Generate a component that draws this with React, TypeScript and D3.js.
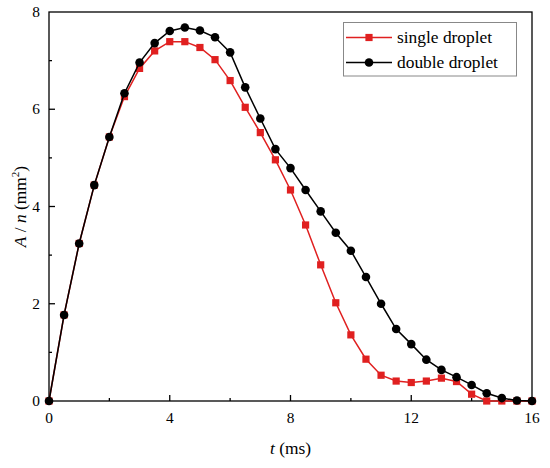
import * as d3 from 'd3';

const times = [0, 0.5, 1, 1.5, 2, 2.5, 3, 3.5, 4, 4.5, 5, 5.5, 6, 6.5, 7, 7.5, 8, 8.5, 9, 9.5, 10, 10.5, 11, 11.5, 12, 12.5, 13, 13.5, 14, 14.5, 15, 15.5, 16];
const singleDroplet = [0, 1.77, 3.24, 4.44, 5.43, 6.26, 6.84, 7.2, 7.39, 7.39, 7.27, 7.02, 6.59, 6.04, 5.52, 4.96, 4.34, 3.62, 2.8, 2.02, 1.36, 0.86, 0.53, 0.41, 0.38, 0.41, 0.47, 0.4, 0.14, 0, 0, 0, 0];
const doubleDroplet = [0, 1.77, 3.24, 4.44, 5.43, 6.33, 6.96, 7.36, 7.61, 7.68, 7.62, 7.48, 7.17, 6.45, 5.81, 5.18, 4.79, 4.34, 3.9, 3.46, 3.09, 2.55, 2.0, 1.48, 1.17, 0.85, 0.64, 0.49, 0.33, 0.16, 0.06, 0.01, 0];
const xTicks = [0, 4, 8, 12, 16];
const xMinor = [2, 6, 10, 14];
const yTicks = [0, 2, 4, 6, 8];
const yMinor = [1, 3, 5, 7];

const font = 'Liberation Serif';
const red = '#e02020';

const width = 550;
const height = 468;
const margin = { left: 49, right: 18, top: 12, bottom: 67 };

const x = d3.scaleLinear().domain([0, 16]).range([margin.left, width - margin.right]);
const y = d3.scaleLinear().domain([0, 8]).range([height - margin.bottom, margin.top]);

export default function App() {
  const [x0, x1] = x.range();
  const [y0, y1] = y.range();
  const line = d3.line<number>().x((_, i) => x(times[i])).y((d) => y(d));

  const legendItems = [
    { label: 'single droplet', color: red, shape: 'square' },
    { label: 'double droplet', color: '#000', shape: 'circle' },
  ];

  return (
    <svg width={width} height={height} style={{ position: 'absolute', left: 0, top: 0, background: '#fff' }}>
      {/* frame */}
      <rect x={x0} y={y1} width={x1 - x0} height={y0 - y1} fill="none" stroke="#000" strokeWidth={1.3} />

      {/* inward ticks */}
      <g stroke="#000" strokeWidth={1.3}>
        {xTicks.slice(1, -1).map((t) => <line key={'xt' + t} x1={x(t)} x2={x(t)} y1={y0} y2={y0 - 6} />)}
        {xMinor.map((t) => <line key={'xm' + t} x1={x(t)} x2={x(t)} y1={y0} y2={y0 - 3} />)}
        {yTicks.slice(1, -1).map((t) => <line key={'yt' + t} x1={x0} x2={x0 + 6} y1={y(t)} y2={y(t)} />)}
        {yMinor.map((t) => <line key={'ym' + t} x1={x0} x2={x0 + 3} y1={y(t)} y2={y(t)} />)}
      </g>

      {/* tick labels */}
      <g fontFamily={font} fontSize={15.4}>
        {xTicks.map((t) => (
          <text key={'xl' + t} x={x(t)} y={y0 + 22} textAnchor="middle">{t}</text>
        ))}
        {yTicks.map((t) => (
          <text key={'yl' + t} x={x0 - 9} y={y(t) + 5} textAnchor="end">{t}</text>
        ))}
      </g>

      {/* axis titles */}
      <text x={(x0 + x1) / 2} y={454} textAnchor="middle" fontFamily={font} fontSize={17.4}>
        <tspan fontStyle="italic">t</tspan>
        <tspan> (ms)</tspan>
      </text>
      <text transform={`translate(26,${(y0 + y1) / 2}) rotate(-90)`} textAnchor="middle" fontFamily={font} fontSize={17.4}>
        <tspan fontStyle="italic">A</tspan>
        <tspan> / </tspan>
        <tspan fontStyle="italic">n</tspan>
        <tspan> (mm</tspan>
        <tspan dy={-7} fontSize={11}>2</tspan>
        <tspan dy={7}>)</tspan>
      </text>

      {/* single droplet */}
      <path d={line(singleDroplet) ?? ''} fill="none" stroke={red} strokeWidth={1.5} />
      {singleDroplet.map((d, i) => (
        <rect key={'s' + i} x={x(times[i]) - 3.6} y={y(d) - 3.6} width={7.2} height={7.2} fill={red} />
      ))}

      {/* double droplet */}
      <path d={line(doubleDroplet) ?? ''} fill="none" stroke="#000" strokeWidth={1.5} />
      {doubleDroplet.map((d, i) => (
        <circle key={'d' + i} cx={x(times[i])} cy={y(d)} r={4.3} fill="#000" />
      ))}

      {/* legend */}
      <rect x={343.5} y={22.5} width={173} height={53.5} fill="#fff" stroke="#888" strokeWidth={1} />
      {legendItems.map((it, i) => {
        const cy = 37.5 + i * 25;
        return (
          <g key={it.label}>
            <line x1={346} x2={392} y1={cy} y2={cy} stroke={it.color} strokeWidth={1.5} />
            {it.shape === 'square'
              ? <rect x={369 - 3.6} y={cy - 3.6} width={7.2} height={7.2} fill={it.color} />
              : <circle cx={369} cy={cy} r={4.3} fill={it.color} />}
            <text x={397} y={cy + 5.5} fontFamily={font} fontSize={17.4}>{it.label}</text>
          </g>
        );
      })}
    </svg>
  );
}
